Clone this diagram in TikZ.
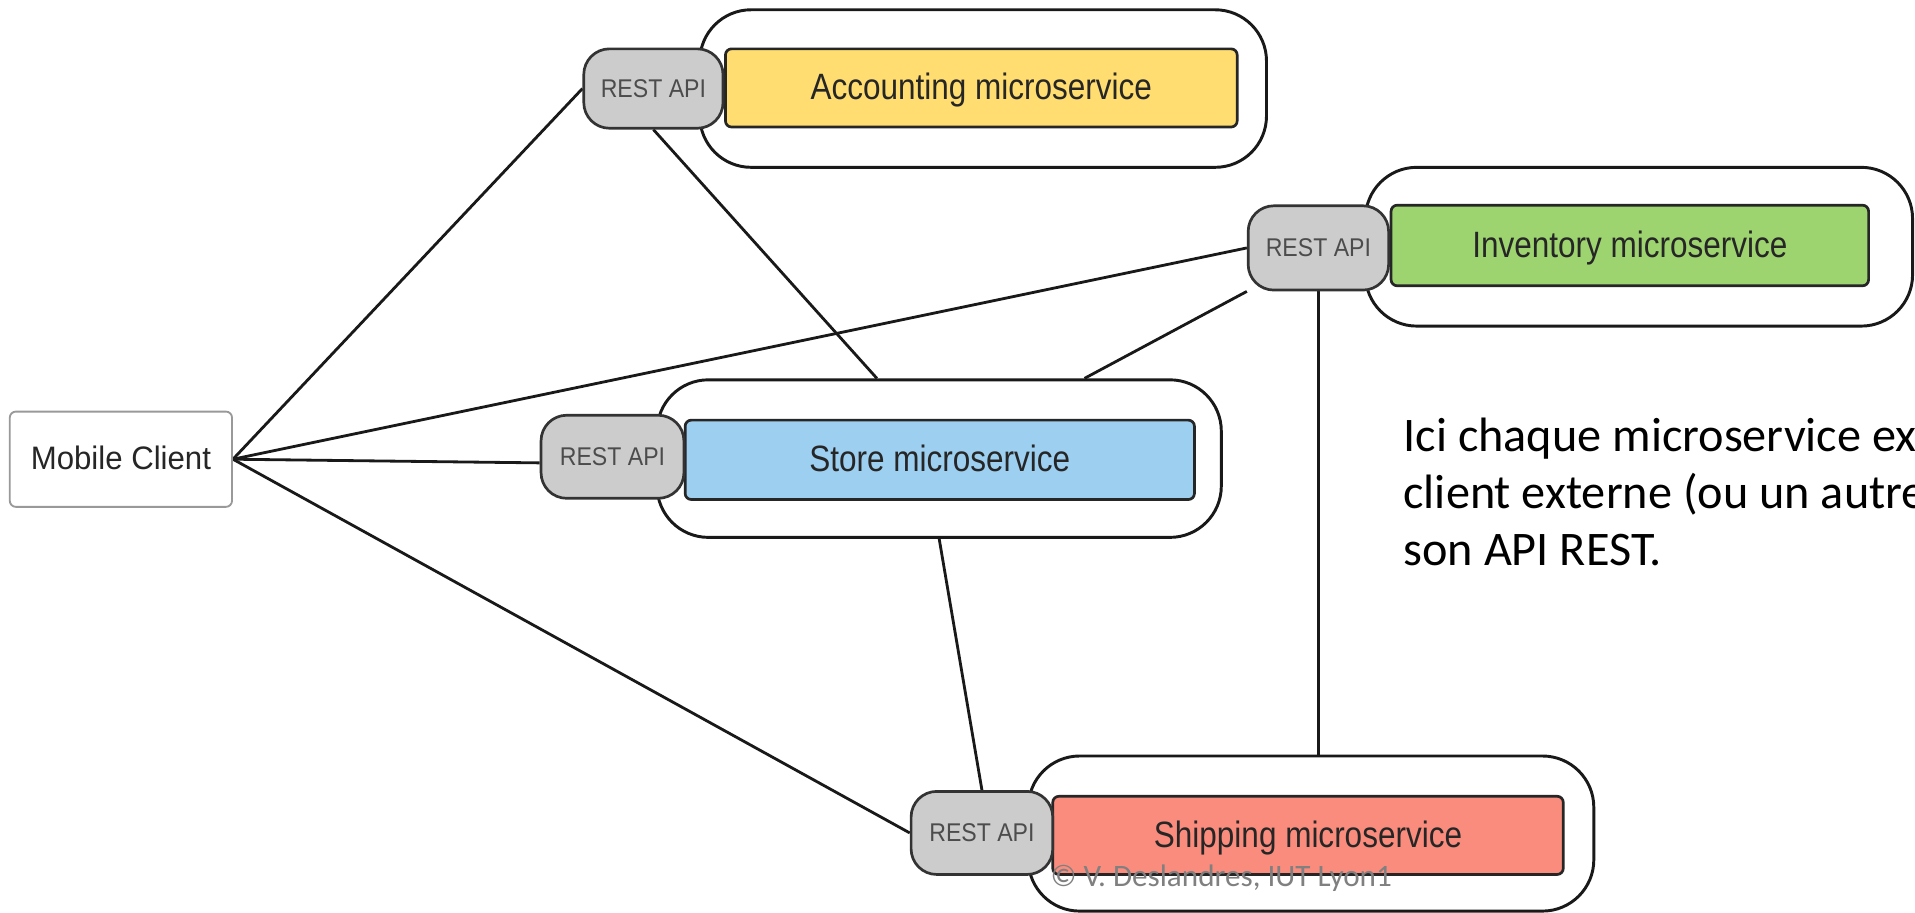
\documentclass[tikz,border=0pt]{standalone}
\usepackage{fontspec}
\setmainfont{Carlito}
\newfontfamily\diag{Liberation Sans}[FakeStretch=0.86]
\newfontfamily\diagapi{Liberation Sans}[FakeStretch=0.9]
\newfontfamily\diagc{Liberation Sans}[FakeStretch=0.96]
\usetikzlibrary{calc,backgrounds}
\definecolor{apigray}{RGB}{204,204,204}
\definecolor{accyellow}{RGB}{255,221,112}
\definecolor{invgreen}{RGB}{158,212,112}
\definecolor{storeblue}{RGB}{156,207,240}
\definecolor{shipred}{RGB}{250,140,126}
\definecolor{copygray}{RGB}{128,128,128}
\begin{document}
\begin{tikzpicture}[x=1pt,y=-1pt,
  outer/.style={draw=black!90, line width=2.4pt, fill=white, rounded corners=42pt, inner sep=0pt},
  api/.style={draw=black!80, line width=2.2pt, fill=apigray, rounded corners=21pt, inner sep=0pt,
    font=\diagapi\fontsize{21}{24}\selectfont, text=black!70, text depth=0pt},
  svc/.style={draw=black!85, line width=2.2pt, rounded corners=5pt, inner sep=0pt,
    font=\diag\fontsize{30}{34}\selectfont, text=black!85, text depth=0.25em},
  client/.style={draw=black!40, line width=1.5pt, fill=white, rounded corners=5pt, inner sep=0pt,
    font=\diagc\fontsize{26.6}{31}\selectfont, text=black!85, text depth=0.3em},
  link/.style={draw=black!90, line width=2.3pt},
  para/.style={anchor=base west, inner sep=0pt, font=\fontsize{39.5}{46}\selectfont, text=black},
  copyr/.style={anchor=base west, inner sep=0pt, font=\fontsize{25.5}{28}\selectfont, text=copygray}]
\useasboundingbox (0,0) rectangle (1568,747);

% Mobile client
\node[client, minimum width=182pt, minimum height=78pt] (mobile) at (99,376) {Mobile Client};

% Accounting
\node[outer, minimum width=464pt, minimum height=129pt] (accO) at (805,72.5) {};
\node[svc, fill=accyellow, minimum width=419pt, minimum height=64pt] (acc) at (803.5,72) {Accounting microservice};
\node[api, minimum width=114pt, minimum height=65pt] (restA) at (535,72.5) {REST API};

% Inventory
\node[outer, minimum width=448pt, minimum height=130pt] (invO) at (1342,202) {};
\node[svc, fill=invgreen, minimum width=391pt, minimum height=66pt] (inv) at (1334.5,201) {Inventory microservice};
\node[api, minimum width=115pt, minimum height=69pt] (restI) at (1079.5,203) {REST API};

% Store
\node[outer, minimum width=462pt, minimum height=129pt] (storeO) at (769,375.5) {};
\node[svc, fill=storeblue, minimum width=417pt, minimum height=65pt] (store) at (769.5,376.5) {Store microservice};
\node[api, minimum width=117pt, minimum height=68pt] (restS) at (501.5,374) {REST API};

% Shipping
\node[outer, minimum width=463pt, minimum height=127pt] (shipO) at (1073.5,682.5) {};
\node[svc, fill=shipred, minimum width=418pt, minimum height=64pt] (ship) at (1071,684) {Shipping microservice};
\node[api, minimum width=116pt, minimum height=68pt] (restSh) at (804,682) {REST API};

% connectors (under the nodes)
\begin{scope}[on background layer]
  \fill[white] (0,0) rectangle (1568,747);
  \draw[link] (mobile.east) -- (restA.west);
  \draw[link] (mobile.east) -- (restI.west);
  \draw[link] (mobile.east) -- ($(restS.west)+(0,5)$);
  \draw[link] (mobile.east) -- (restSh.west);
  \draw[link] (restA.south) -- ($(storeO.north)+(-51,0)$);
  \draw[link] (restI.south west) -- ($(storeO.north)+(119,0)$);
  \draw[link] (restI.south) -- (restI.south |- shipO.north);
  \draw[link] (storeO.south) -- (restSh.north);
\end{scope}

% text
\begin{scope}
  \clip (0,0) rectangle (1568,747);
  \node[para] (t1) at (1149,370) {Ici chaque microservice ex};
  \node[para] (t2) at (1149,416.4) {client externe (ou un autre};
  \node[para] (t3) at (1149,462.8) {son API REST.};
  \node[copyr] (cp) at (860,726) {© V. Deslandres, IUT Lyon1};
\end{scope}
\end{tikzpicture}
\end{document}
